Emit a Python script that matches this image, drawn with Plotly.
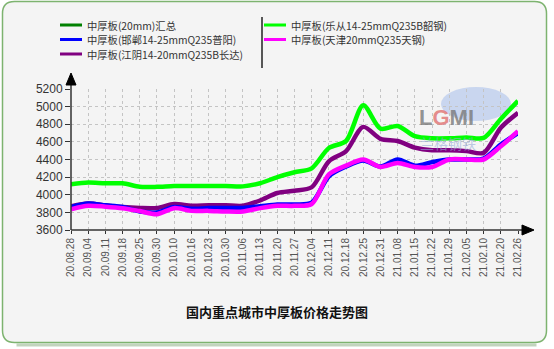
import plotly.graph_objects as go

dates = ["20.08.28", "20.09.04", "20.09.11", "20.09.18", "20.09.25", "20.09.30",
         "20.10.10", "20.10.16", "20.10.23", "20.10.30", "20.11.06", "20.11.13",
         "20.11.20", "20.11.27", "20.12.04", "20.12.11", "20.12.18", "20.12.25",
         "20.12.31", "21.01.08", "21.01.15", "21.01.22", "21.01.29", "21.02.05",
         "21.02.10", "21.02.20", "21.02.26"]

handan = [3860, 3900, 3880, 3860, 3810, 3800, 3860, 3840, 3850, 3850, 3850, 3870,
          3890, 3890, 3910, 4210, 4320, 4390, 4320, 4400, 4330, 4370, 4400, 4400,
          4410, 4570, 4700]
jiangyin = [3870, 3900, 3880, 3860, 3850, 3850, 3895, 3875, 3880, 3880, 3875, 3935,
            4020, 4045, 4085, 4380, 4495, 4770, 4635, 4610, 4535, 4505, 4505, 4495,
            4475, 4760, 4930]
lecong = [4120, 4140, 4130, 4130, 4090, 4090, 4100, 4100, 4100, 4100, 4095, 4130,
          4200, 4255, 4300, 4530, 4610, 5015, 4750, 4780, 4665, 4640, 4640, 4650,
          4645, 4860, 5065]
tianjin = [3835, 3875, 3865, 3848, 3815, 3780, 3848, 3817, 3817, 3810, 3810, 3848,
           3874, 3874, 3895, 4230, 4330, 4400, 4315, 4360, 4315, 4315, 4400, 4400,
           4400, 4550, 4720]

names = ["中厚板(20mm)汇总", "中厚板(邯郸14-25mmQ235普阳)", "中厚板(江阴14-20mmQ235B长达)",
         "中厚板(乐从14-25mmQ235B韶钢)", "中厚板(天津20mmQ235天钢)"]
colors = ["#008000", "#0000ff", "#800080", "#00ff00", "#ff00ff"]
series = [None, handan, jiangyin, lecong, tianjin]

yticks = [3600, 3800, 4000, 4200, 4400, 4600, 4800, 5000, 5200]
title = "国内重点城市中厚板价格走势图"

W, H = 554, 349
L, R, T, B = 71, 518, 89, 230


def px(x):
    return (x - L) / (R - L)


def py(y):
    return (B - y) / (B - T)


fig = go.Figure()
for idx in [3, 2, 1, 4]:
    fig.add_trace(go.Scatter(
        x=dates, y=series[idx], mode="lines", name=names[idx],
        line=dict(color=colors[idx], width=4.5, shape="spline", smoothing=0.8),
        showlegend=False, hoverinfo="x+y+name"))

shapes = []
x0, x1, y0, y1, r = 2.5, 546.5, 1.5, 342.5, 12
path = (f"M {px(x0 + r)},{py(y0)} L {px(x1 - r)},{py(y0)} Q {px(x1)},{py(y0)} {px(x1)},{py(y0 + r)} "
        f"L {px(x1)},{py(y1 - r)} Q {px(x1)},{py(y1)} {px(x1 - r)},{py(y1)} "
        f"L {px(x0 + r)},{py(y1)} Q {px(x0)},{py(y1)} {px(x0)},{py(y1 - r)} "
        f"L {px(x0)},{py(y0 + r)} Q {px(x0)},{py(y0)} {px(x0 + r)},{py(y0)} Z")
spath = f"M {px(x0 + r + 2)},{py(y1 + 2.5)} L {px(x1 - r + 2)},{py(y1 + 2.5)}"
shapes.append(dict(type="path", path=spath, xref="paper", yref="paper",
                   line=dict(color="rgba(120,160,110,0.45)", width=3), layer="below"))
shapes.append(dict(type="path", path=path, xref="paper", yref="paper",
                   fillcolor="#f4f4f4", line=dict(color="#7db36f", width=1.5), layer="below"))

# watermark (below the lines)
shapes.append(dict(type="circle", xref="paper", yref="paper", x0=px(441), x1=px(511),
                   y0=py(87), y1=py(121), fillcolor="rgba(165,190,235,0.55)",
                   line=dict(width=0), layer="below"))

# axes lines and arrows
shapes.append(dict(type="line", xref="paper", yref="paper", x0=px(L), x1=px(L),
                   y0=py(B), y1=py(84), line=dict(color="#333333", width=1.5)))
shapes.append(dict(type="line", xref="paper", yref="paper", x0=px(L), x1=px(524),
                   y0=py(B), y1=py(B), line=dict(color="#333333", width=1.5)))
shapes.append(dict(type="path", xref="paper", yref="paper",
                   path=f"M {px(L - 5)},{py(85)} L {px(L + 5)},{py(85)} L {px(L)},{py(73)} Z",
                   fillcolor="#000000", line=dict(color="#000000", width=1)))
shapes.append(dict(type="path", xref="paper", yref="paper",
                   path=f"M {px(522)},{py(B - 5)} L {px(522)},{py(B + 5)} L {px(534)},{py(B)} Z",
                   fillcolor="#000000", line=dict(color="#000000", width=1)))

annotations = []
leg_pos = [(60, 25), (60, 39.5), (60, 54), (264, 25), (264, 39.5)]
for i, (lx, ly) in enumerate(leg_pos):
    shapes.append(dict(type="line", xref="paper", yref="paper", x0=px(lx), x1=px(lx + 22),
                       y0=py(ly), y1=py(ly), line=dict(color=colors[i], width=3)))
    annotations.append(dict(x=px(lx + 25), y=py(ly), xref="paper", yref="paper",
                            text=names[i], showarrow=False, xanchor="left", yanchor="middle",
                            font=dict(family="Noto Sans CJK SC", size=10.3, color="#333333")))
shapes.append(dict(type="line", xref="paper", yref="paper", x0=px(262), x1=px(262),
                   y0=py(17), y1=py(68), line=dict(color="#222222", width=1.5)))

annotations.append(dict(x=px(476), y=py(103), xref="paper", yref="paper", showarrow=False,
                        text="<b>L<span style='color:#e07070'>G</span>MI</b>",
                        font=dict(family="Liberation Sans", size=22, color="rgba(120,120,120,0.8)")))
annotations.append(dict(x=px(478), y=py(131), xref="paper", yref="paper", showarrow=False,
                        text="兰格钢铁",
                        font=dict(family="Noto Sans CJK SC", size=14, color="rgba(150,170,215,0.6)")))

annotations.append(dict(x=px(277), y=py(323), xref="paper", yref="paper", showarrow=False,
                        text="<b>" + title + "</b>",
                        font=dict(family="Noto Sans CJK SC", size=13, color="#111111")))

fig.update_layout(
    width=W, height=H,
    margin=dict(l=L, r=W - R, t=T, b=H - B, pad=0),
    paper_bgcolor="white", plot_bgcolor="rgba(0,0,0,0)",
    shapes=shapes, annotations=annotations, showlegend=False,
    xaxis=dict(type="category", categoryorder="array", categoryarray=dates,
               range=[0, len(dates) - 1], tickvals=dates, ticktext=dates,
               tickangle=-90, ticks="outside", ticklen=3, tickcolor="#333333",
               showline=False, showgrid=True, gridcolor="#c4c4c4", griddash="dot",
               gridwidth=1, zeroline=False,
               tickfont=dict(family="Liberation Sans", size=10, color="#555555")),
    yaxis=dict(range=[3600, 5200], tickvals=yticks, ticks="outside", ticklen=5,
               tickcolor="#333333", showline=False, showgrid=True, gridcolor="#c4c4c4",
               griddash="dot", gridwidth=1, zeroline=False,
               tickfont=dict(family="Liberation Sans", size=12, color="#333333")),
)

fig.write_html("out.html")
